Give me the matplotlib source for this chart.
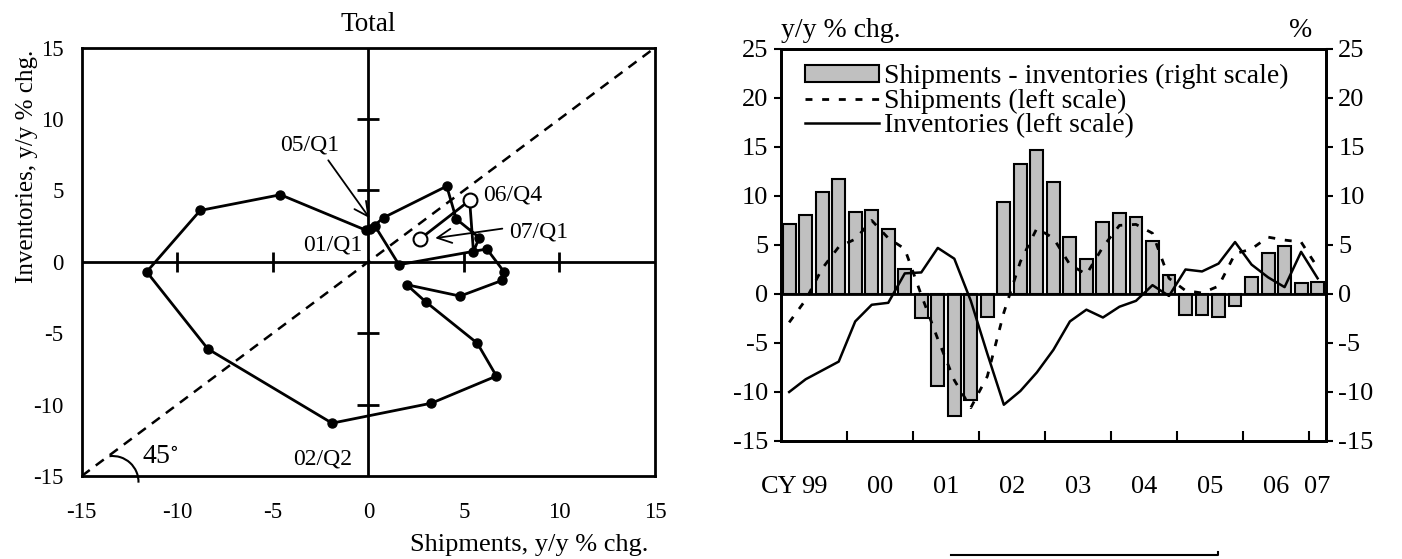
import numpy as np
import matplotlib
matplotlib.use("Agg")
from matplotlib import pyplot as plt
from matplotlib.patches import Arc
from matplotlib.lines import Line2D

years = ["99", "00", "01", "02", "03", "04", "05", "06", "07"]
quarters = [y + "Q" + str(q) for y in years[:-1] for q in range(1, 5)] + ["07Q1"]

# y/y % chg., 99Q1 .. 07Q1
shipments = [-2.9, -0.6, 2.6, 4.8, 5.6, 7.5, 5.7, 4.6,
             -0.1, -4.6, -8.8, -11.6, -8.4, -1.9, 3.3, 6.7,
             5.7, 3.0, 2.0, 4.8, 7.0, 7.1, 6.2, 1.6,
             0.35, 0.1, 0.8, 4.1, 4.6, 5.8, 5.5, 5.3, 2.7]
inventories = [-10.0, -8.7, -7.8, -6.9, -2.8, -1.1, -0.9, 2.1,
               2.2, 4.7, 3.6, -0.7, -6.1, -11.3, -9.9, -8.0,
               -5.7, -2.8, -1.6, -2.4, -1.3, -0.7, 0.9, -0.2,
               2.5, 2.3, 3.1, 5.3, 3.0, 1.7, 0.7, 4.3, 1.6]
# shipments - inventories, % points
gap = [7.1, 8.1, 10.4, 11.7, 8.4, 8.6, 6.6, 2.6,
       -2.4, -9.4, -12.4, -10.8, -2.3, 9.4, 13.3, 14.7,
       11.4, 5.8, 3.6, 7.3, 8.3, 7.9, 5.4, 1.9,
       -2.1, -2.1, -2.3, -1.2, 1.7, 4.2, 4.9, 1.1, 1.2]

plt.rcParams['font.family'] = ['Liberation Serif', 'DejaVu Serif']
plt.rcParams['font.size'] = 17
plt.rcParams['mathtext.fontset'] = 'stix'
plt.rcParams['axes.unicode_minus'] = False

fig = plt.figure(figsize=(14.02, 5.59), dpi=100)

# ---- cycle chart: shipments vs inventories ----
ax1 = fig.add_axes([0.0583, 0.1485, 0.4089, 0.7662])
ax1.set_xlim(-15, 15)
ax1.set_ylim(-15, 15)
ax1.set_xticks(range(-15, 16, 5))
ax1.set_yticks(range(-15, 16, 5))
ax1.tick_params(length=0, labelsize=16.5)
ax1.tick_params(axis='x', pad=19)
ax1.tick_params(axis='y', pad=13)
for s in ax1.spines.values():
    s.set_linewidth(2)

ax1.axhline(0, color='black', lw=2, zorder=2)
ax1.axvline(0, color='black', lw=2, zorder=2)
inner = [-10, -5, 5, 10]
ax1.plot(inner, [0] * 4, ls='none', marker='|', ms=15, mew=2, color='black', zorder=2)
ax1.plot([0] * 4, inner, ls='none', marker='_', ms=16, mew=2, color='black', zorder=2)

ax1.plot([-15, 15], [-15, 15], color='black', lw=1.8, ls=(0, (4, 3)), zorder=1)
ax1.add_patch(Arc((-13.39, -15.42), 2 * 1.36, 2 * 1.82, theta1=-2, theta2=95,
                  color='black', lw=1.5, clip_on=False))
ax1.text(-10.9, -13.65, r"45$^{\circ}$", ha='center', va='center', fontsize=20)

start = quarters.index("01Q1")
sx = shipments[start:]
sy = inventories[start:]
ax1.plot(sx, sy, color='black', lw=2, marker='o', ms=6.5, zorder=3)
ax1.plot(sx[-2:], sy[-2:], ls='none', marker='o', ms=10, mfc='white',
         mec='black', mew=1.5, zorder=4)

arrow = dict(arrowstyle='->,head_length=0.6,head_width=0.3', color='black', lw=1.3)
ax1.annotate("05/Q1", xy=(0.15, 2.9), xytext=(-3.06, 8.2), ha='center', va='center',
             arrowprops=dict(arrow, shrinkA=2, shrinkB=2, relpos=(0.75, 0)))
ax1.annotate("07/Q1", xy=(3.5, 1.66), xytext=(7.37, 2.1), ha='left', va='center',
             arrowprops=dict(arrow, shrinkA=3, shrinkB=0, relpos=(0, 0.7)))
ax1.text(6.0, 4.7, "06/Q4", ha='left', va='center')
ax1.text(-0.33, 1.2, "01/Q1", ha='right', va='center')
ax1.text(-2.4, -13.8, "02/Q2", ha='center', va='center')

ax1.set_title("Total", fontsize=19.5, pad=12)
fig.text(648 / 1402, 1 - 551 / 559, "Shipments, y/y % chg.", ha='right',
         va='baseline', fontsize=19)
fig.text(27 / 1402, 1 - 50 / 559, "Inventories, y/y % chg.", rotation=90,
         ha='center', va='top', fontsize=18)

# ---- time series chart ----
ax2 = fig.add_axes([0.557, 0.2111, 0.3887, 0.7013])
ax3 = ax2.twinx()
x = np.arange(len(quarters))

bars = ax3.bar(x, gap, width=0.78, color='#c0c0c0', edgecolor='black', lw=1.5)
ax2.set_zorder(ax3.get_zorder() + 1)
ax2.patch.set_visible(False)
l_ship, = ax2.plot(x, shipments, color='black', lw=2, ls=(0, (2.5, 3.5)))
l_inv, = ax2.plot(x, inventories, color='black', lw=1.8)
ax2.axhline(0, color='black', lw=2)

for a in (ax2, ax3):
    a.set_ylim(-15, 25)
    a.set_yticks(range(-15, 26, 5))
    a.tick_params(axis='y', direction='out', length=5, width=1.5, pad=4, labelsize=19)
    for s in a.spines.values():
        s.set_linewidth(2)
ax2.set_xlim(-0.5, len(quarters) - 0.5)

year_edges = [4 * k - 0.5 for k in range(1, len(years))]
year_mid = [4 * k + 1.5 for k in range(len(years) - 1)] + [len(quarters) - 1]
ax2.set_xticks(year_edges)
ax2.set_xticklabels([])
ax2.tick_params(axis='x', which='major', direction='in', length=7, width=1.5)
ax2.set_xticks(year_mid, minor=True)
ax2.set_xticklabels(years, minor=True)
ax2.tick_params(axis='x', which='minor', length=0, pad=25, labelsize=19)
ax2.annotate("CY", xy=(year_mid[0], 0), xycoords=ax2.get_xaxis_transform(),
             xytext=(-12, -25), textcoords='offset points', ha='right', va='top',
             fontsize=19)

ax2.legend([bars, l_ship, l_inv],
           ["Shipments - inventories (right scale)", "Shipments (left scale)",
            "Inventories (left scale)"],
           loc='upper left', bbox_to_anchor=(0.045, 0.962), frameon=False,
           handlelength=2.66, handleheight=0.55, handletextpad=0.18,
           labelspacing=-0.02, borderpad=0, borderaxespad=0, fontsize=20)

fig.text(781 / 1402, 1 - 36.7 / 559, "y/y % chg.", ha='left', va='baseline', fontsize=20)
fig.text(1301 / 1402, 1 - 36.7 / 559, "%", ha='center', va='baseline', fontsize=20)

# top edge of the box underneath
fig.add_artist(Line2D([951 / 1402, 1218 / 1402, 1218 / 1402],
                      [1 - 555 / 559, 1 - 555 / 559, 1 - 552 / 559],
                      transform=fig.transFigure, color='black', lw=1.5))

fig.savefig("out.png", dpi=100)
